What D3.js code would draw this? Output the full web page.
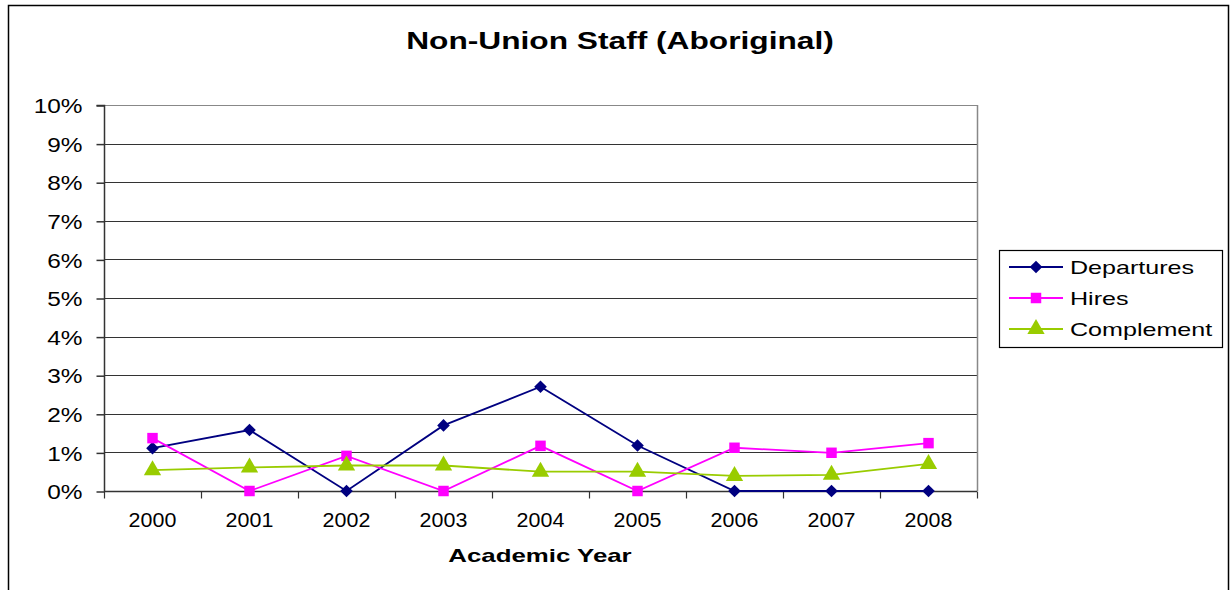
<!DOCTYPE html>
<html>
<head>
<meta charset="utf-8">
<script src="https://cdn.jsdelivr.net/npm/d3@7"></script>
<style>
  body { margin: 0; background: #fff; }
  svg { font-family: "Liberation Sans", Arial, sans-serif; }
</style>
</head>
<body>
<div id="chart"></div>
<script>
var years = ['2000', '2001', '2002', '2003', '2004', '2005', '2006', '2007', '2008'];
var departures = [1.11, 1.58, 0, 1.70, 2.70, 1.18, 0, 0, 0];
var hires = [1.37, 0, 0.91, 0, 1.17, 0, 1.12, 0.99, 1.24];
var complement = [0.54, 0.61, 0.66, 0.66, 0.50, 0.50, 0.39, 0.42, 0.70];
var yTicks = [0, 1, 2, 3, 4, 5, 6, 7, 8, 9, 10];

var series = [
  { name: 'Departures', values: departures, color: '#000080', shape: 'diamond' },
  { name: 'Hires', values: hires, color: '#ff00ff', shape: 'square' },
  { name: 'Complement', values: complement, color: '#99cc00', shape: 'triangle' }
];

var width = 1230, height = 590;
var plotLeft = 104, plotRight = 977, plotTop = 105, plotBottom = 491;

var svg = d3.select('#chart').append('svg')
  .attr('width', width)
  .attr('height', height);

// stretch text horizontally, the original fonts are wider
function stretch(sel, factor) {
  sel.each(function() {
    var len = this.getComputedTextLength();
    d3.select(this)
      .attr('textLength', len * factor)
      .attr('lengthAdjust', 'spacingAndGlyphs');
  });
}

// outer frame
svg.append('rect')
  .attr('x', 8.5).attr('y', 5.5)
  .attr('width', 1220).attr('height', 600)
  .attr('fill', 'none').attr('stroke', '#000').attr('stroke-width', 1.5);

var x = d3.scaleBand().domain(years).range([plotLeft, plotRight]);
var y = d3.scaleLinear().domain([0, 10]).range([plotBottom, plotTop]);

// gridlines
svg.append('g')
  .selectAll('line')
  .data(yTicks)
  .enter()
  .append('line')
  .attr('x1', plotLeft).attr('x2', plotRight)
  .attr('y1', function(d) { return Math.round(y(d)) + 0.5; })
  .attr('y2', function(d) { return Math.round(y(d)) + 0.5; })
  .attr('stroke', function(d) { return d === 10 ? '#888' : '#333'; })
  .attr('stroke-width', 1.2);

// right border of plot
svg.append('line')
  .attr('x1', plotRight + 0.5).attr('x2', plotRight + 0.5)
  .attr('y1', plotTop).attr('y2', plotBottom)
  .attr('stroke', '#888').attr('stroke-width', 1.5);

// y axis
var yAxis = d3.axisLeft(y)
  .tickValues(yTicks)
  .tickSize(8)
  .tickPadding(14)
  .tickFormat(function(d) { return d + '%'; });

var gy = svg.append('g')
  .attr('transform', 'translate(' + (plotLeft + 0.5) + ',0.5)')
  .call(yAxis);
gy.selectAll('text')
  .attr('font-size', 20)
  .attr('fill', '#000')
  .attr('font-family', '"Liberation Sans", Arial, sans-serif')
  .attr('dy', '0.36em');
gy.selectAll('line, path').attr('stroke', '#333').attr('stroke-width', 1.5);
gy.select('.domain').attr('d', 'M-8,' + plotTop + 'H0V' + plotBottom);
stretch(gy.selectAll('text'), 1.22);

// x axis
var gx = svg.append('g')
  .attr('transform', 'translate(0,' + (plotBottom + 0.5) + ')');
gx.append('line')
  .attr('x1', plotLeft).attr('x2', plotRight)
  .attr('stroke', '#333').attr('stroke-width', 1.5);
var bounds = years.map(function(d) { return x(d); }).concat([plotRight]);
gx.selectAll('.xtick')
  .data(bounds)
  .enter()
  .append('line')
  .attr('class', 'xtick')
  .attr('x1', function(d) { return Math.round(d) + 0.5; })
  .attr('x2', function(d) { return Math.round(d) + 0.5; })
  .attr('y1', 0).attr('y2', 7)
  .attr('stroke', '#333').attr('stroke-width', 1.2);
var xLabels = gx.selectAll('.xlabel')
  .data(years)
  .enter()
  .append('text')
  .attr('class', 'xlabel')
  .attr('x', function(d) { return x(d) + x.bandwidth() / 2; })
  .attr('y', 35)
  .attr('text-anchor', 'middle')
  .attr('font-size', 19.5)
  .text(function(d) { return d; });
stretch(xLabels, 1.1);

// titles
var title = svg.append('text')
  .attr('x', 620).attr('y', 49)
  .attr('text-anchor', 'middle')
  .attr('font-size', 24).attr('font-weight', 'bold')
  .text('Non-Union Staff (Aboriginal)');
stretch(title, 1.32);

var xTitle = svg.append('text')
  .attr('x', 540).attr('y', 562)
  .attr('text-anchor', 'middle')
  .attr('font-size', 19).attr('font-weight', 'bold')
  .text('Academic Year');
stretch(xTitle, 1.36);

function symbolFor(shape) {
  if (shape === 'diamond') return d3.symbol().type(d3.symbolSquare).size(80)();
  if (shape === 'square') return d3.symbol().type(d3.symbolSquare).size(110)();
  return d3.symbol().type(d3.symbolTriangle).size(130)();
}
function rotFor(shape) {
  return shape === 'diamond' ? ' rotate(45)' : '';
}

var line = d3.line()
  .x(function(d, i) { return x(years[i]) + x.bandwidth() / 2; })
  .y(function(d) { return y(d); });

series.forEach(function(s) {
  var g = svg.append('g');
  g.append('path')
    .datum(s.values)
    .attr('d', line)
    .attr('fill', 'none')
    .attr('stroke', s.color)
    .attr('stroke-width', 1.8);
  g.selectAll('.pt')
    .data(s.values)
    .enter()
    .append('path')
    .attr('class', 'pt')
    .attr('d', symbolFor(s.shape))
    .attr('transform', function(d, i) {
      return 'translate(' + (x(years[i]) + x.bandwidth() / 2) + ',' + y(d) + ')' + rotFor(s.shape);
    })
    .attr('fill', s.color);
});

// legend
var legend = svg.append('g').attr('transform', 'translate(999,250)');
legend.append('rect')
  .attr('x', 0.5).attr('y', 0.5)
  .attr('width', 223).attr('height', 97)
  .attr('fill', '#fff').attr('stroke', '#000').attr('stroke-width', 1.2);

var item = legend.selectAll('.legend')
  .data(series)
  .enter()
  .append('g')
  .attr('class', 'legend')
  .attr('transform', function(d, i) { return 'translate(0,' + (17 + i * 31) + ')'; });

item.append('line')
  .attr('x1', 10).attr('x2', 64)
  .attr('stroke', function(d) { return d.color; })
  .attr('stroke-width', 1.8);
item.append('path')
  .attr('d', function(d) { return symbolFor(d.shape); })
  .attr('transform', function(d) { return 'translate(37,0)' + rotFor(d.shape); })
  .attr('fill', function(d) { return d.color; });
var legendText = item.append('text')
  .attr('x', 71).attr('y', 7)
  .attr('font-size', 19)
  .text(function(d) { return d.name; });
stretch(legendText, 1.32);
</script>
</body>
</html>
